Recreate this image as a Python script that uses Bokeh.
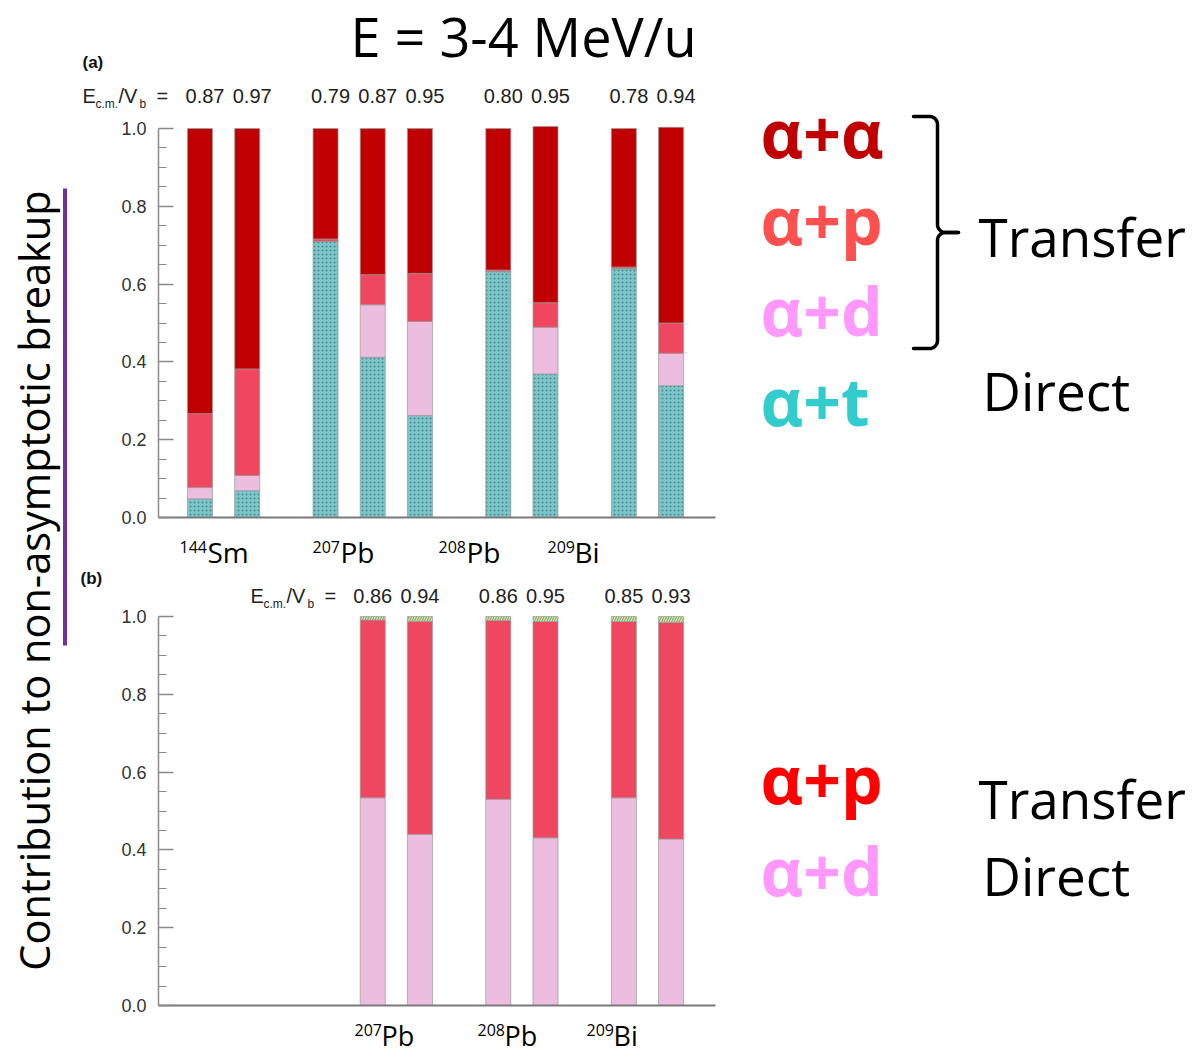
import numpy as np
from bokeh.plotting import figure
from bokeh.models import Range1d, Label, FixedTicker, PrintfTickFormatter, LinearAxis
from bokeh.embed import file_html
from bokeh.resources import INLINE

# ---------------- data ----------------
groups_a = ["144Sm", "207Pb", "208Pb", "209Bi"]
group_sizes_a = [2, 3, 2, 2]
ecm_a = ["0.87", "0.97", "0.79", "0.87", "0.95", "0.80", "0.95", "0.78", "0.94"]
a_t = [0.048, 0.069, 0.710, 0.412, 0.262, 0.632, 0.369, 0.640, 0.339]    # alpha+t
a_d = [0.029, 0.039, 0.000, 0.135, 0.242, 0.000, 0.120, 0.000, 0.083]    # alpha+d
a_p = [0.190, 0.274, 0.006, 0.077, 0.123, 0.004, 0.063, 0.004, 0.078]    # alpha+p
a_aa = [0.733, 0.618, 0.284, 0.376, 0.373, 0.364, 0.453, 0.356, 0.503]   # alpha+alpha

groups_b = ["207Pb", "208Pb", "209Bi"]
group_sizes_b = [2, 2, 2]
ecm_b = ["0.86", "0.94", "0.86", "0.95", "0.85", "0.93"]
b_d = [0.534, 0.440, 0.530, 0.431, 0.534, 0.428]    # alpha+d
b_p = [0.457, 0.548, 0.460, 0.556, 0.453, 0.557]    # alpha+p
b_x = [0.009, 0.012, 0.010, 0.013, 0.013, 0.015]    # small remainder

y_ticks = [0.0, 0.2, 0.4, 0.6, 0.8, 1.0]
legend_a = ["α+α", "α+p", "α+d", "α+t"]
legend_b = ["α+p", "α+d"]
title_text = "E = 3-4 MeV/u"
ylabel_text = "Contribution to non-asymptotic breakup"

# ---------------- layout constants (page pixels) ----------------
W, H = 1202, 1054
FRAME_L, FRAME_R = 158, 715
A_TOP, A_BOT = 128, 517
B_TOP, B_BOT = 616, 1005
PX = 47.2          # px per bar slot
GAP = 0.66         # extra gap between groups (in slots)
BAR_W = 0.53
X0 = -(199.5 - FRAME_L) / PX
XS = X0 - FRAME_L / PX
XE = XS + W / PX
SA = A_BOT - A_TOP
SB = B_BOT - B_TOP

C_AA = "#C00000"
C_P = "#EF4760"
C_D = "#EDBDE0"
C_T = "#7CC6CA"
C_X = "#CDE6AE"

OPEN = "Open Sans"
LIB = "Liberation Sans"
K_BASE = {OPEN: 0.41, LIB: 0.36}


def xd(px):
    return X0 + (px - FRAME_L) / PX


def ya(py):
    return (A_BOT - py) / SA


def slot_positions(sizes):
    pos, x = [], 0.0
    for n in sizes:
        for _ in range(n):
            pos.append(x)
            x += 1.0
        x += GAP
    return pos


pos_a = slot_positions(group_sizes_a)
slots_by_group, start = {}, 0
for g, n in zip(groups_a, group_sizes_a):
    slots_by_group[g] = pos_a[start:start + n]
    start += n
pos_b = []
for g, n in zip(groups_b, group_sizes_b):
    pos_b.extend(slots_by_group[g][-n:])


def stack(series):
    base = np.zeros(len(series[0]))
    out = []
    for s in series:
        top = base + np.array(s)
        out.append((base.copy(), top))
        base = top
    return out


p = figure(width=W, height=H, x_range=Range1d(XS, XE), y_range=Range1d(ya(H), ya(0)),
           x_axis_type=None, y_axis_type=None, min_border=0, tools="", toolbar_location=None,
           output_backend="svg", title=None)
p.extra_y_ranges = {"b": Range1d((B_BOT - H) / SB, B_BOT / SB)}
p.outline_line_color = None
p.background_fill_color = "white"
p.border_fill_color = "white"


def add_y_axis(rname):
    ax = LinearAxis(y_range_name=rname, fixed_location=xd(FRAME_L), bounds=(0, 1))
    ax.ticker = FixedTicker(ticks=y_ticks, minor_ticks=[i * 0.05 for i in range(21)])
    ax.formatter = PrintfTickFormatter(format="%.1f")
    ax.axis_line_color = "#8a8a8a"
    ax.axis_line_width = 1.5
    ax.major_tick_line_color = "#8a8a8a"
    ax.major_tick_line_width = 1.5
    ax.major_tick_in = 15
    ax.major_tick_out = 0
    ax.minor_tick_line_color = "#8a8a8a"
    ax.minor_tick_line_width = 1.2
    ax.minor_tick_in = 8
    ax.minor_tick_out = 0
    ax.major_label_standoff = 12
    ax.major_label_text_font = LIB
    ax.major_label_text_font_size = "18px"
    ax.major_label_text_color = "#333333"
    p.add_layout(ax, "left")


def add_x_axis(rname):
    ax = LinearAxis(y_range_name=rname, fixed_location=0, bounds=(xd(FRAME_L), xd(FRAME_R)),
                    ticker=FixedTicker(ticks=[]))
    ax.axis_line_color = "#7a7a7a"
    ax.axis_line_width = 2
    ax.major_tick_line_color = None
    ax.minor_tick_line_color = None
    p.add_layout(ax, "below")


add_y_axis("default")
add_y_axis("b")
add_x_axis("default")
add_x_axis("b")


def add_text(x, base_py, text, size, font=LIB, color="#222222", bold=False,
             align="left", angle=0.0, x_offset=0, rotated=False):
    shift = K_BASE[font] * size
    if rotated:
        y = ya(base_py)
        x = x - shift / PX
    else:
        y = ya(base_py - shift)
    p.add_layout(Label(x=x, y=y, text=text, text_font=font, text_font_size=f"{size}px",
                       text_color=color, text_font_style="bold" if bold else "normal",
                       text_align=align, text_baseline="alphabetic", angle=angle,
                       x_offset=x_offset))


seg_line = dict(line_color="#9a9a9a", line_width=1, line_alpha=0.7)

# ---------------- panel (a) ----------------
sa_t, sa_d, sa_p, sa_aa = stack([a_t, a_d, a_p, a_aa])
p.vbar(x=pos_a, width=BAR_W, bottom=sa_t[0], top=sa_t[1], fill_color=C_T,
       hatch_pattern="dot", hatch_color="#2A6A70", hatch_alpha=0.65, hatch_scale=4, hatch_weight=1,
       **seg_line)
p.vbar(x=pos_a, width=BAR_W, bottom=sa_d[0], top=sa_d[1], fill_color=C_D, **seg_line)
p.vbar(x=pos_a, width=BAR_W, bottom=sa_p[0], top=sa_p[1], fill_color=C_P, **seg_line)
p.vbar(x=pos_a, width=BAR_W, bottom=sa_aa[0], top=sa_aa[1], fill_color=C_AA, **seg_line)

add_text(xd(350), 58, title_text, 54, font=OPEN, color="#000000")
add_text(xd(82), 68, "(a)", 17, bold=True, color="#111111")


def ecm_label(x0, base):
    add_text(xd(x0), base, "E", 20)
    add_text(xd(x0 + 13), base + 5, "c.m.", 12)
    add_text(xd(x0 + 36), base, "/V", 20)
    add_text(xd(x0 + 57), base + 5, "b", 12)
    add_text(xd(x0 + 74), base, "=", 20)


ecm_label(82, 103)
for x, t in zip(pos_a, ecm_a):
    add_text(x, 103, t, 20, align="center", x_offset=5)


def iso_labels(groups, sup_px, main_px, base, size):
    for g, sx, mx in zip(groups, sup_px, main_px):
        num = "".join(ch for ch in g if ch.isdigit())
        el = "".join(ch for ch in g if not ch.isdigit())
        add_text(xd(sx), base - 10, num, 16, font=OPEN, color="#000000")
        add_text(xd(mx), base, el, size, font=OPEN, color="#000000")


iso_labels(groups_a, [179, 312, 438, 547], [207, 340, 466, 574], 563, 28)

# ---------------- panel (b) ----------------
sb_d, sb_p, sb_x = stack([b_d, b_p, b_x])
p.vbar(x=pos_b, width=BAR_W, bottom=sb_d[0], top=sb_d[1], fill_color=C_D, y_range_name="b",
       **seg_line)
p.vbar(x=pos_b, width=BAR_W, bottom=sb_p[0], top=sb_p[1], fill_color=C_P, y_range_name="b",
       **seg_line)
p.vbar(x=pos_b, width=BAR_W, bottom=sb_x[0], top=sb_x[1], fill_color=C_X, y_range_name="b",
       hatch_pattern="/", hatch_color="#5E7F45", hatch_alpha=0.7, hatch_scale=5, hatch_weight=1,
       **seg_line)

add_text(xd(80), 584, "(b)", 17, bold=True, color="#111111")
ecm_label(250, 603)
for x, t in zip(pos_b, ecm_b):
    add_text(x, 603, t, 20, align="center")
iso_labels(groups_b, [354, 477, 586], [381, 504, 613], 1046, 27)

# ---------------- left: y label and purple bar ----------------
add_text(xd(51), 580, ylabel_text, 41.5, font=OPEN, color="#000000", align="center",
         angle=np.pi / 2, rotated=True)
p.line(x=[xd(64.5), xd(64.5)], y=[ya(188), ya(645)], line_color="#7030A0", line_width=4)

# ---------------- right: legend texts ----------------
leg_colors_a = ["#C00000", "#FF5050", "#FF99FF", "#33CCCC"]
for t, c, b in zip(legend_a, leg_colors_a, [159, 246, 337, 427]):
    add_text(xd(760), b, t, 66, font=OPEN, color=c, bold=True)
add_text(xd(978), 258, "Transfer", 53, font=OPEN, color="#000000")
add_text(xd(982), 412, "Direct", 53, font=OPEN, color="#000000")

leg_colors_b = ["#FF0000", "#FF99FF"]
for t, c, b in zip(legend_b, leg_colors_b, [805, 897]):
    add_text(xd(760), b, t, 66, font=OPEN, color=c, bold=True)
add_text(xd(978), 820, "Transfer", 53, font=OPEN, color="#000000")
add_text(xd(982), 897, "Direct", 53, font=OPEN, color="#000000")

# curly bracket (decoration, in page pixels)
xv, ytop, ymid, ybot, r = 937, 116, 232, 348, 8
th = np.linspace(0, np.pi / 2, 12)
bx, by = [913], [ytop]
bx += list(xv - r + r * np.sin(th)); by += list(ytop + r - r * np.cos(th))
bx += list(xv + r - r * np.cos(th)); by += list(ymid - r + r * np.sin(th))
bx += [958]; by += [ymid]
bx2, by2 = [958], [ymid]
bx2 += list(xv + r - r * np.sin(th)); by2 += list(ymid + r - r * np.cos(th))
bx2 += list(xv - r + r * np.cos(th)); by2 += list(ybot - r + r * np.sin(th))
bx2 += [913]; by2 += [ybot]
p.multi_line(xs=[[xd(v) for v in bx], [xd(v) for v in bx2]],
             ys=[[ya(v) for v in by], [ya(v) for v in by2]],
             line_color="#000000", line_width=3.5, line_join="round", line_cap="round")

open("out.html", "w").write(file_html(p, INLINE))
